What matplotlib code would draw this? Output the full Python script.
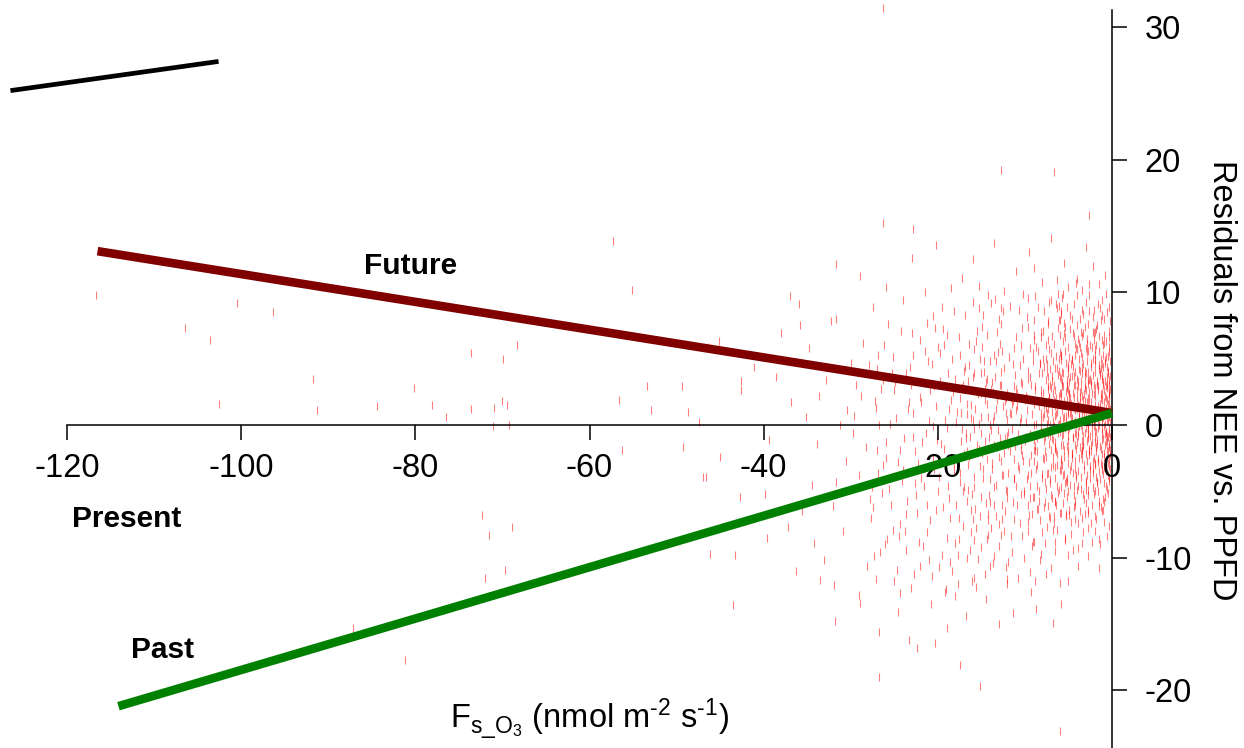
import numpy as np
import matplotlib
matplotlib.use("Agg")
import matplotlib.pyplot as plt

plt.rcParams['font.family'] = ['Liberation Sans', 'DejaVu Sans']
plt.rcParams['mathtext.fontset'] = 'custom'
plt.rcParams['mathtext.rm'] = 'Liberation Sans'
plt.rcParams['mathtext.it'] = 'Liberation Sans'
plt.rcParams['axes.unicode_minus'] = False

# residuals: dense cloud near zero flux
core_pts = [
    (-0.4,2.1),(-1.2,-3.4),(-2.7,5.6),(-0.9,0.8),(-3.5,-1.2),(-5.1,3.9),(-1.8,7.2),(-4.4,-5.3),(-6.2,1.5),(-2.3,-0.6),
    (-7.8,4.4),(-0.6,-1.9),(-3.1,2.8),(-8.9,-2.7),(-4.8,8.3),(-1.5,-6.1),(-6.7,6.1),(-2.9,0.2),(-9.6,1.9),(-5.6,-3.8),
    (-0.8,4.7),(-3.9,-7.4),(-7.1,-0.8),(-1.1,9.4),(-4.2,1.1),(-10.4,3.2),(-2.1,-2.5),(-6.0,-6.6),(-3.3,6.9),(-8.2,0.4),
    (-0.3,-4.2),(-5.3,0.7),(-2.5,3.5),(-11.1,-1.6),(-4.6,-2.1),(-7.4,2.7),(-1.4,1.6),(-9.1,5.4),(-3.7,4.1),(-6.5,-1.7),
    (-0.7,6.3),(-2.8,-4.9),(-5.8,5.2),(-8.6,-4.6),(-1.9,0.3),(-4.0,7.5),(-10.8,-3.1),(-3.0,-0.2),(-6.9,3.3),(-1.6,-2.8),
    (-5.0,-0.4),(-7.7,-5.8),(-2.2,8.1),(-0.5,-0.9),(-9.9,2.2),(-4.3,3.0),(-11.7,0.9),(-3.6,-3.9),(-6.3,8.8),(-1.0,3.2),
    (-8.0,1.8),(-2.6,1.9),(-5.5,-5.1),(-0.9,-7.3),(-7.2,5.7),(-3.4,10.2),(-9.4,-0.7),(-4.9,2.3),(-1.3,5.0),(-6.1,0.1),
    (-10.1,-5.2),(-2.0,-1.3),(-4.7,-8.2),(-8.4,3.9),(-0.2,1.2),(-3.8,0.6),(-5.9,-2.6),(-7.5,0.9),(-1.7,-4.4),(-11.4,4.6),
    (-2.4,4.4),(-6.6,-4.0),(-4.1,5.8),(-9.0,-1.9),(-0.6,3.6),(-3.2,-5.6),(-7.9,7.1),(-5.2,1.9),(-1.1,-0.3),(-8.8,2.6),
    (-2.9,6.5),(-6.4,2.0),(-10.6,0.2),(-4.5,-0.9),(-1.6,2.6),(-7.0,-3.2),(-3.0,3.9),(-5.7,9.6),(-0.4,-2.6),(-9.3,-3.6),
    (-2.2,0.9),(-4.8,-4.5),(-8.1,-0.2),(-1.3,7.9),(-6.8,4.8),(-3.6,-2.2),(-11.0,2.7),(-0.8,-5.4),(-5.4,6.6),(-7.6,-2.4),
    (-2.7,-7.8),(-4.0,2.0),(-9.7,4.1),(-1.9,4.0),(-6.2,-0.6),(-3.4,1.3),(-8.5,-6.3),(-0.5,0.4),(-5.0,4.3),(-10.3,-2.3),
    (-2.5,-3.1),(-7.3,1.2),(-4.4,9.1),(-1.2,-1.1),(-6.0,3.6),(-3.1,-6.7),(-9.2,0.8),(-0.7,2.9),(-5.6,-1.5),(-8.7,5.9),
    (-2.0,5.3),(-4.6,0.5),(-7.8,-1.2),(-1.5,-8.6),(-11.9,-0.5),(-3.8,6.2),(-6.5,1.4),(-0.3,5.5),(-5.3,-6.9),(-9.8,-4.1),
    (-2.3,2.4),(-4.2,-3.3),(-8.3,4.7),(-1.0,-3.7),(-6.9,-5.5),(-3.5,8.7),(-10.9,1.4),(-0.9,1.7),(-5.1,-2.9),(-7.4,6.4),
    (-2.8,0.0),(-4.9,5.1),(-9.5,-2.8),(-1.4,3.8),(-6.3,-3.0),(-3.3,-1.6),(-8.0,-3.7),(-0.6,8.5),(-5.8,2.4),(-11.3,-4.0),
    (-2.1,-5.2),(-4.3,-6.0),(-7.1,3.0),(-1.7,1.0),(-6.7,-7.4),(-3.7,2.5),(-9.0,6.8),(-0.4,-1.4),(-5.5,7.7),(-8.9,0.0),
    (-2.6,9.8),(-4.7,1.6),(-10.2,5.0),(-1.2,-6.5),(-6.0,5.5),(-3.0,-4.2),(-7.7,-4.3),(-0.8,0.1),(-5.2,3.4),(-9.6,-6.0),
    (-1.8,6.0),(-4.1,-1.8),(-8.2,2.2),(-2.4,-2.0),(-6.6,0.7),(-3.9,3.3),(-11.6,2.0),(-0.5,4.1),(-5.9,-4.7),(-7.2,-6.9),
    (-2.0,1.5),(-4.5,6.9),(-9.3,3.0),(-1.1,-2.2),(-6.4,-2.0),(-3.2,0.4),(-8.6,-1.0),(-0.2,-3.3),(-5.0,1.0),(-10.0,-0.9),
    (-2.7,3.1),(-4.8,-3.4),(-7.5,4.0),(-1.6,-5.0),(-6.1,9.0),(-3.6,5.4),(-9.8,1.1),(-0.7,-0.6),(-5.4,-0.2),(-8.4,-5.0),
    (-2.2,7.0),(-4.0,-4.9),(-7.0,1.7),(-1.3,2.3),(-6.8,-1.1),(-3.3,4.6),(-11.2,-2.6),(-0.9,6.8),(-5.7,4.0),(-8.8,-2.0),
    (-2.5,-0.8),(-4.4,3.7),(-9.1,-5.4),(-1.9,-3.0),(-6.2,7.3),(-3.4,-8.9),(-7.9,2.4),(-0.3,0.9),(-5.1,5.9),(-10.5,-1.4),
    (-2.9,-2.7),(-4.6,8.0),(-8.1,0.9),(-1.5,4.5),(-6.5,-5.8),(-3.9,-0.5),(-7.3,-0.5),(-0.6,-4.8),(-5.6,2.9),(-9.4,3.6),
    (-2.1,3.0),(-4.2,-7.1),(-7.6,5.0),(-1.0,0.6),(-6.0,-3.4),(-3.1,1.8),(-8.7,-3.3),(-0.4,3.0),(-5.3,-4.2),(-11.5,1.6),
]

near_pts = [
    (-0.3,3.4),(-1.7,-1.1),(-4.6,4.9),(-2.2,-3.6),(-6.8,0.3),(-0.9,6.2),(-3.5,2.2),(-5.4,-4.4),(-1.2,0.5),(-7.3,2.9),
    (-2.8,7.6),(-4.1,-0.7),(-0.5,-2.9),(-6.1,5.0),(-3.0,-5.9),(-1.5,4.2),(-5.0,2.6),(-7.7,-2.0),(-2.5,1.2),(-0.7,-4.6),
    (-4.4,6.7),(-6.5,-3.2),(-1.9,2.8),(-3.8,-2.5),(-0.2,0.2),(-5.7,1.1),(-2.9,4.8),(-7.0,-5.3),(-1.3,-6.2),(-4.8,0.9),
    (-3.3,8.4),(-6.2,3.8),(-0.6,1.9),(-2.0,-0.9),(-5.2,-1.6),(-7.5,4.6),(-1.0,5.3),(-3.6,-4.8),(-4.9,3.2),(-2.6,-1.8),
    (-0.4,7.1),(-6.7,1.9),(-1.8,-3.9),(-3.9,1.5),(-5.6,6.3),(-2.3,0.0),(-7.9,0.6),(-0.8,-1.5),(-4.3,-5.7),(-3.1,3.6),
    (-1.4,8.8),(-6.0,-0.5),(-2.7,-6.4),(-5.1,4.5),(-0.3,-0.3),(-3.4,0.7),(-7.2,-1.4),(-1.6,1.4),(-4.5,2.4),(-2.1,6.4),
    (-5.8,-2.8),(-0.9,-3.2),(-3.7,5.9),(-6.4,-6.0),(-1.1,2.4),(-4.0,-1.3),(-2.4,3.0),(-7.6,3.4),(-0.6,4.4),(-5.3,0.2),
    (-3.2,-3.0),(-1.7,7.5),(-6.9,-1.0),(-2.9,1.7),(-4.7,-3.1),(-0.2,2.7),(-5.9,3.5),(-1.3,-1.8),(-3.5,6.7),(-7.1,0.0),
    (-2.2,-4.7),(-4.2,4.0),(-0.8,0.9),(-6.3,-4.6),(-1.9,5.7),(-3.8,-0.1),(-5.5,1.8),(-2.6,-2.3),(-0.5,3.9),(-7.4,-3.6),
    (-4.4,1.3),(-1.0,-5.6),(-3.0,2.6),(-6.6,4.3),(-2.0,-0.4),(-5.0,-5.0),(-0.4,5.9),(-3.6,3.3),(-1.6,-2.6),(-4.8,7.2),
    (-6.1,2.2),(-2.8,-5.3),(-0.7,1.3),(-5.4,5.6),(-3.3,-1.4),(-1.2,3.7),(-7.8,1.5),(-4.1,-4.0),(-2.4,4.7),(-0.3,-1.7),
    (-5.7,-0.8),(-3.9,2.9),(-1.5,0.0),(-6.8,-2.4),(-2.7,2.0),(-4.6,-2.2),(-0.9,8.0),(-3.1,-0.6),(-5.2,3.0),(-7.0,5.4),
    (-1.8,1.0),(-4.3,5.3),(-2.5,-3.4),(-0.6,-0.8),(-6.4,0.8),(-3.7,-6.5),(-1.1,4.6),(-5.0,1.4),(-2.1,2.3),(-7.3,-0.7),
    (-0.2,4.8),(-4.5,-1.0),(-3.4,4.4),(-1.4,-4.1),(-6.0,6.8),(-2.3,-1.3),(-5.5,-3.7),(-0.8,2.2),(-3.8,0.9),(-4.9,-6.4),
    (-1.7,3.1),(-6.7,-0.1),(-2.9,5.5),(-0.5,-3.8),(-5.3,2.5),(-3.2,1.0),(-7.6,-4.8),(-1.2,-0.6),(-4.0,3.5),(-2.6,8.6),
    (-0.4,0.6),(-5.8,4.9),(-3.5,-2.0),(-1.9,-5.0),(-6.5,2.6),(-2.2,3.8),(-4.7,0.4),(-0.9,-2.1),(-3.0,-4.4),(-7.2,2.1),
    (-1.5,6.7),(-5.1,-1.9),(-2.8,0.5),(-0.3,1.5),(-4.2,-2.7),(-6.2,-5.1),(-1.0,3.0),(-3.6,7.0),(-5.6,0.5),(-2.0,-2.9),
    (-0.7,5.1),(-4.4,-4.6),(-3.3,1.9),(-7.5,0.1),(-1.3,2.0),(-5.9,-3.4),(-2.5,6.0),(-0.6,-1.2),(-3.9,-3.5),(-6.9,3.7),
    (-1.6,-0.2),(-4.8,2.0),(-2.3,-6.0),(-0.2,-2.3),(-5.4,7.4),(-3.1,4.1),(-7.8,-2.6),(-1.1,1.1),(-4.1,0.0),(-2.7,-0.7),
    (-6.3,1.0),(-0.8,3.3),(-3.7,2.1),(-5.2,-4.3),(-1.9,7.0),(-4.6,3.7),(-2.0,0.8),(-0.5,-5.1),(-6.6,-1.8),(-3.4,-1.9),
    (-1.4,4.0),(-5.7,2.9),(-2.9,-3.8),(-0.4,2.5),(-4.3,6.1),(-7.1,-4.1),(-1.7,-1.4),(-3.2,0.2),(-6.1,4.1),(-2.4,1.7),
    (-0.9,-0.1),(-5.0,-0.8),(-3.8,5.0),(-1.2,-3.0),(-4.9,1.7),(-2.6,3.4),(-7.4,1.8),(-0.3,6.6),(-5.5,-2.4),(-3.0,-2.2),
    (-1.6,0.4),(-6.0,0.4),(-2.2,5.0),(-4.5,-3.6),(-0.7,-0.5),(-3.5,3.9),(-5.3,-6.7),(-1.0,6.0),(-6.8,2.4),(-2.8,-1.0),
    (-4.0,1.2),(-0.2,-0.9),(-1.8,-2.0),(-5.6,3.9),(-3.3,-5.2),(-7.0,2.8),(-2.1,0.3),(-4.7,4.6),(-0.6,2.8),(-3.9,-0.8),
    (-0.5,1.6),(-1.3,4.3),(-2.4,-1.5),(-3.7,1.7),(-0.9,-2.4),(-4.8,3.6),(-1.9,2.2),(-2.9,6.1),(-5.5,0.6),(-0.3,-0.6),
    (-3.2,-3.4),(-1.1,3.5),(-4.2,0.3),(-2.0,4.6),(-5.9,2.1),(-0.7,-3.5),(-3.5,5.1),(-1.6,0.7),(-4.6,-2.5),(-2.6,2.5),
    (-0.2,3.7),(-5.1,-1.2),(-3.0,0.6),(-1.4,-1.6),(-4.0,5.7),(-2.2,-2.7),(-0.8,4.9),(-5.7,-3.0),(-3.6,2.7),(-1.8,-0.5),
    (-4.4,2.1),(-2.7,-0.3),(-0.4,-4.0),(-5.3,4.7),(-3.3,-0.8),(-1.2,1.9),(-4.9,-0.2),(-2.1,6.9),(-0.6,0.3),(-3.9,-4.6),
    (-1.5,5.6),(-5.0,0.8),(-2.5,-4.0),(-0.3,2.3),(-4.3,-1.5),(-3.1,3.0),(-1.0,-1.0),(-5.8,5.3),(-2.8,1.4),(-0.9,-4.4),
    (-4.7,1.0),(-1.7,3.3),(-3.4,-2.6),(-5.2,2.8),(-2.3,0.2),(-0.5,5.2),(-3.8,4.2),(-1.3,-2.9),(-4.1,-3.8),(-2.0,1.1),
    (-0.7,2.0),(-5.6,-0.7),(-3.0,5.8),(-1.5,-3.5),(-4.5,4.4),(-2.6,-2.0),(-0.2,-1.9),(-3.6,0.0),(-1.9,4.9),(-5.4,1.5),
    (-2.4,3.2),(-0.8,-0.7),(-4.2,-0.6),(-3.2,2.3),(-1.1,6.4),(-5.0,-2.2),(-2.9,-1.2),(-0.4,1.0),(-3.7,-1.7),(-1.6,2.9),
    (-4.8,0.1),(-2.2,-3.3),(-0.6,3.1),(-5.9,-1.5),(-3.3,1.2),(-1.2,0.2),(-4.4,3.0),(-2.7,4.0),(-0.3,-3.1),(-3.9,6.5),
    (-1.8,-1.7),(-5.2,-4.0),(-2.5,0.9),(-0.9,2.6),(-4.6,5.0),(-3.5,-0.4),(-1.4,1.3),(-5.7,3.2),(-2.1,-0.1),(-0.5,-2.0),
    (-3.0,-4.9),(-1.0,4.4),(-4.0,2.6),(-2.3,5.9),(-0.7,-1.3),(-5.5,-1.9),(-3.8,1.4),(-1.7,-4.2),(-4.9,2.4),(-2.8,3.4),
    (-0.4,-7.6),(-1.6,9.1),(-3.3,-8.1),(-5.0,10.4),(-6.8,-7.9),(-8.5,8.9),(-2.0,-6.9),(-4.0,9.8),(-0.9,-5.8),(-7.4,7.6),
    (-2.6,10.6),(-9.2,-6.7),(-1.2,8.3),(-4.7,-7.3),(-6.3,10.9),(-0.6,-8.4),(-3.7,8.0),(-8.0,-8.1),(-2.3,-8.8),(-5.8,8.6),
    (-1.8,-7.1),(-9.6,7.4),(-3.0,9.3),(-4.4,-6.2),(-7.1,-7.0),(-0.2,7.8),(-5.4,-8.5),(-2.8,-6.6),(-8.8,9.7),(-1.4,-9.0),
    (-6.0,7.9),(-3.9,-9.3),(-0.7,9.9),(-7.8,-6.2),(-4.9,-6.8),(-2.1,8.7),(-9.0,-8.8),(-1.0,-6.4),(-5.2,8.9),(-3.5,-7.0),
    (-6.6,-8.8),(-0.3,8.9),(-8.2,6.6),(-2.4,-7.4),(-4.1,10.7),(-1.5,-5.7),(-7.0,9.4),(-5.6,-5.9),(-3.1,7.4),(-9.4,-5.5),
]

mid_pts = [
    (-6.3,-2.2),(-8.4,1.4),(-11.2,-4.1),(-7.1,4.2),(-13.6,0.7),(-9.5,-6.8),(-15.4,2.3),(-6.9,-0.4),(-10.3,3.1),(-12.7,-2.7),
    (-8.0,-4.0),(-16.8,-1.0),(-7.6,6.0),(-14.1,-5.3),(-9.9,0.2),(-11.8,5.1),(-6.5,1.7),(-13.0,-7.5),(-8.8,-1.6),(-17.3,0.9),
    (-10.7,-3.3),(-7.3,-6.1),(-12.2,2.0),(-15.9,-3.9),(-9.1,4.8),(-6.1,-4.9),(-14.7,4.0),(-11.5,-0.3),(-8.2,2.6),(-16.2,-6.4),
    (-10.0,-1.2),(-7.8,0.8),(-13.4,3.6),(-9.6,-8.0),(-12.0,-5.5),(-6.7,3.0),(-15.0,-0.6),(-11.0,1.1),(-8.6,-3.0),(-17.8,-2.9),
    (-7.0,-1.9),(-14.4,1.6),(-10.5,6.0),(-12.9,-1.0),(-9.3,-2.3),(-16.5,3.3),(-6.4,5.2),(-11.3,-7.1),(-8.1,-0.5),(-13.8,-3.3),
    (-10.9,2.4),(-7.5,-3.7),(-15.6,-7.8),(-9.0,1.6),(-12.4,4.3),(-6.2,0.0),(-14.9,-2.1),(-11.7,-2.0),(-8.5,5.6),(-17.0,-4.7),
    (-10.1,-5.0),(-7.2,2.1),(-13.2,1.9),(-9.7,3.5),(-16.0,0.4),(-12.6,-3.8),(-6.8,-3.0),(-14.3,-8.6),(-11.1,3.8),(-8.3,-7.2),
    (-15.2,5.0),(-10.4,0.5),(-7.9,-2.5),(-13.5,-1.5),(-9.2,-0.8),(-17.5,2.0),(-12.1,0.4),(-6.6,-5.7),(-14.6,2.7),(-11.4,-5.8),
    (-8.7,0.1),(-16.4,-2.4),(-10.2,-2.7),(-7.4,3.6),(-13.1,5.5),(-9.4,-4.6),(-15.7,1.2),(-12.3,-6.5),(-6.0,2.4),(-14.0,0.0),
    (-11.6,0.8),(-8.9,-5.4),(-17.2,-0.3),(-10.6,4.5),(-7.7,-0.9),(-13.3,-4.5),(-9.8,2.0),(-16.1,-5.2),(-12.5,1.4),(-6.3,4.3),
    (-14.8,-4.0),(-11.9,-1.5),(-8.0,3.9),(-15.3,-1.8),(-10.8,-0.7),(-7.1,-4.4),(-13.7,2.5),(-9.4,5.8),(-16.7,1.6),(-12.8,3.0),
    (-6.9,1.0),(-14.2,-6.7),(-11.2,2.9),(-8.6,-2.0),(-17.6,-7.0),(-10.3,-8.4),(-7.6,1.3),(-13.9,-0.4),(-9.0,-1.1),(-15.8,3.9),
    (-12.0,-0.8),(-6.5,-1.3),(-14.5,3.2),(-11.0,-4.6),(-8.3,4.6),(-16.3,-0.9),(-10.0,1.9),(-7.3,0.4),(-13.0,-2.4),(-9.6,-3.8),
    (-15.1,0.6),(-12.2,-4.9),(-6.7,-6.9),(-14.0,4.8),(-11.4,1.8),(-8.8,2.9),(-17.1,3.0),(-10.5,-1.9),(-7.9,5.0),(-13.6,-6.0),
]

wide_pts = [
    (-5.4,-8.7),(-9.8,8.1),(-14.6,-11.2),(-19.3,6.0),(-24.1,-4.2),(-7.2,9.3),(-11.5,-9.6),(-16.9,4.4),(-21.7,-9.1),(-26.5,2.7),
    (-6.1,7.9),(-10.6,-7.4),(-15.3,8.8),(-20.4,-3.3),(-25.2,5.1),(-8.3,-10.2),(-13.2,7.0),(-18.6,-7.0),(-22.8,0.9),(-27.4,-6.2),
    (-5.9,-6.6),(-12.4,10.1),(-17.7,-12.0),(-23.6,3.9),(-9.1,-8.8),(-14.9,5.9),(-19.9,-10.7),(-26.0,-1.3),(-7.8,8.6),(-11.9,-3.6),
    (-16.2,-8.1),(-21.3,7.7),(-25.8,-8.6),(-6.6,-9.5),(-10.3,7.3),(-15.8,-4.7),(-20.9,2.6),(-24.7,-10.9),(-8.9,6.4),(-13.7,-10.4),
    (-18.2,8.6),(-22.4,-6.6),(-27.9,4.5),(-5.6,9.9),(-12.8,-8.3),(-17.0,-2.2),(-23.0,6.9),(-9.4,-11.1),(-14.3,6.8),(-19.6,-1.4),
    (-26.9,-3.6),(-7.5,-7.7),(-11.7,9.0),(-16.6,-10.0),(-21.1,4.8),(-25.5,0.1),(-6.9,6.7),(-10.9,-6.0),(-15.2,-6.9),(-20.0,5.9),
    (-24.4,-7.5),(-8.6,-6.3),(-13.0,8.0),(-18.8,-4.6),(-22.6,-2.0),(-27.1,1.3),(-5.2,-5.4),(-12.1,-11.6),(-17.4,5.3),(-23.8,-8.0),
    (-9.6,9.6),(-14.0,-5.8),(-19.0,-8.5),(-26.2,6.0),(-7.0,-10.8),(-11.3,5.8),(-16.0,9.3),(-21.9,-4.0),(-25.0,-11.8),(-6.3,-7.9),
    (-10.1,-10.0),(-15.5,7.1),(-20.7,-11.4),(-24.9,3.2),(-8.1,7.0),(-13.5,-9.9),(-18.0,3.5),(-22.2,-8.8),(-27.6,-4.7),(-5.8,8.4),
    (-12.6,-7.1),(-17.9,-6.0),(-23.3,1.7),(-9.2,-9.1),(-14.8,8.3),(-19.2,-12.6),(-26.6,-9.6),(-7.3,7.8),(-11.6,-8.4),(-16.4,6.1),
    (-21.4,-0.6),(-25.4,-6.0),(-6.0,-11.9),(-10.7,8.7),(-15.9,-11.5),(-20.2,-6.4),(-24.2,7.1),(-8.4,-5.7),(-13.3,4.8),(-18.4,-11.0),
    (-22.9,5.3),(-27.3,-9.9),(-5.5,6.9),(-12.2,-10.7),(-17.1,-5.0),(-23.1,-12.3),(-9.0,7.9),(-14.2,-7.2),(-19.4,7.2),(-26.3,3.4),
    (-7.7,-8.9),(-11.0,6.6),(-16.5,-3.0),(-21.0,-10.2),(-25.7,7.6),(-6.4,9.1),(-10.4,-5.2),(-15.0,-9.2),(-20.6,8.2),(-24.6,-2.8),
    (-8.8,-11.8),(-13.9,9.2),(-18.7,1.2),(-22.5,-5.3),(-27.0,-1.9),(-5.1,-9.8),(-12.7,7.6),(-17.6,-8.6),(-23.7,-9.4),(-9.7,-7.3),
]

inner_pts = [
    (-12.4,-2.1),(-13.8,3.2),(-15.1,-5.4),(-12.9,6.1),(-16.7,0.8),(-14.2,-8.3),(-18.3,2.5),(-13.1,-0.4),(-17.5,-3.6),(-20.2,1.4),
    (-12.7,4.0),(-15.9,5.7),(-19.4,-6.2),(-14.6,1.9),(-21.8,-1.3),(-13.5,-4.7),(-16.3,-9.4),(-23.1,3.0),(-12.2,0.9),(-18.9,-0.2),
    (-14.9,7.4),(-17.1,-7.6),(-20.7,4.6),(-13.3,-6.9),(-15.5,-1.5),(-22.6,-4.4),(-16.0,3.6),(-24.8,0.5),(-19.0,6.8),(-12.5,-3.8),
    (-14.0,-10.6),(-18.1,-2.9),(-21.2,-8.1),(-13.9,2.7),(-16.9,8.3),(-25.9,-2.5),(-15.3,0.1),(-20.0,-5.0),(-17.8,1.0),(-23.7,-6.7),
    (-12.8,8.8),(-14.4,-2.6),(-19.7,3.3),(-16.5,-4.9),(-22.1,2.1),(-13.0,-9.1),(-18.6,-10.3),(-27.2,1.8),(-15.7,-6.3),(-21.5,5.6),
    (-14.7,4.8),(-17.3,-1.2),(-12.3,1.8),(-26.4,-5.1),(-20.5,-2.4),(-16.1,-11.8),(-24.0,-3.4),(-13.6,5.3),(-19.2,0.4),(-15.0,2.4),
    (-18.4,5.0),(-22.9,-0.9),(-12.6,-6.0),(-14.1,-0.9),(-28.3,-1.7),(-17.0,4.1),(-20.9,-7.2),(-16.6,-2.0),(-25.3,3.9),(-13.2,-1.7),
    (-15.8,-8.7),(-19.9,-3.9),(-23.4,1.2),(-14.3,3.5),(-18.0,-8.9),(-21.0,0.3),(-12.1,-5.0),(-29.1,-3.8),(-16.2,1.5),(-17.6,6.6),
    (-13.7,0.3),(-20.4,2.9),(-24.5,-8.4),(-15.2,-3.1),(-22.3,-2.9),(-18.7,-5.5),(-14.5,-5.9),(-26.8,0.0),(-12.9,3.0),(-19.5,-9.8),
    (-16.8,-0.6),(-21.6,-4.6),(-13.4,9.5),(-17.9,0.2),(-15.6,6.3),(-23.9,-1.0),(-20.1,-1.1),(-14.8,-3.3),(-27.7,-7.0),(-18.5,1.9),
    (-12.0,2.4),(-16.4,4.5),(-22.0,6.4),(-13.9,-7.8),(-19.3,-1.8),(-25.0,2.6),(-15.4,-10.1),(-17.2,2.8),(-21.3,-6.0),(-14.2,0.6),
    (-28.8,2.2),(-18.2,-3.4),(-12.4,-8.0),(-20.6,-0.1),(-16.0,-7.1),(-23.2,4.4),(-13.3,1.2),(-19.8,5.4),(-26.1,-9.0),(-15.1,3.9),
    (-17.4,-4.3),(-22.7,-11.2),(-14.0,-4.1),(-24.3,-1.9),(-18.8,3.9),(-12.6,5.6),(-21.9,1.7),(-16.7,-5.7),(-29.6,0.7),(-13.8,-2.9),
    (-19.1,-12.4),(-15.9,-0.3),(-25.6,-4.8),(-17.7,-9.8),(-20.3,7.3),(-14.6,-1.2),(-23.5,-5.7),(-12.3,-1.0),(-27.0,4.2),(-16.2,0.5),
    (-18.5,10.3),(-16.0,12.5),(-14.2,9.8),(-11.0,11.6),(-9.5,13.0),(-8.0,10.8),(-5.5,12.2),(-4.0,11.0),(-3.0,13.4),(-1.5,10.6),
    (-7.0,14.1),(-12.5,8.6),(-10.2,9.9),(-17.2,11.1),(-13.5,13.7),(-2.2,12.0),(-6.2,9.9),(-15.3,10.5),(-19.5,8.9),(-21.5,10.0),
    (-24.0,9.4),(-23.0,12.6),(-0.8,11.3),(-9.0,11.8),
    (-18.0,-12.9),(-14.5,-13.1),(-10.8,-11.5),(-9.3,-12.6),(-13.0,-15.0),(-16.8,-14.4),(-20.8,-13.5),(-7.6,-11.2),(-12.0,-12.0),(-22.0,-10.6),
    (-5.0,-11.8),(-4.5,-9.4),(-2.8,-9.9),(-11.9,-10.3),(-15.6,-12.2),(-19.0,-15.3),(-24.6,-14.1),(-8.2,-9.7),(-1.5,-10.8),(-23.3,-16.2),
]

outer_pts = [
    (-25.2,-7.9),(-26.9,5.3),(-28.1,-10.6),(-30.4,1.1),(-27.5,8.9),(-31.7,-4.3),(-29.0,-12.8),(-32.8,3.4),(-26.3,-3.0),(-33.9,-1.4),
    (-28.6,6.2),(-30.9,-8.0),(-34.8,5.8),(-27.8,-5.6),(-35.6,-6.5),(-31.2,0.0),(-29.7,-0.6),(-36.9,1.7),(-33.1,-10.2),(-30.0,4.7),
    (-37.7,-3.0),(-32.3,7.8),(-26.0,10.4),(-34.2,-8.9),(-38.6,3.6),(-31.9,-12.1),(-35.1,0.6),(-28.9,-13.4),(-39.4,-1.1),(-33.6,2.2),
    (-36.3,-11.0),(-29.4,3.0),(-38.0,6.9),(-30.6,-2.7),(-34.5,-4.5),(-37.2,-7.7),(-32.0,-6.1),(-39.8,-5.2),(-35.9,9.1),(-27.1,-11.6),
]

far_pts = [
    (-116.7,9.8),(-100.5,9.2),(-106.5,7.3),(-91.7,3.5),(-80.2,2.8),(-102.6,1.6),(-91.3,1.1),(-84.4,1.4),(-78.1,1.5),(-76.5,0.6),
    (-73.6,5.4),(-69.9,5.0),(-68.3,6.0),(-73.6,1.2),(-71.0,1.3),(-70.0,1.8),(-69.5,1.5),(-72.4,-6.8),(-71.6,-8.3),(-68.9,-7.7),
    (-72.0,-11.5),(-69.7,-10.9),(-87.2,-15.3),(-71.1,-0.1),(-69.2,0.0),(-81.2,-17.7),(-96.4,8.5),(-103.6,6.4),
    (-57.3,13.9),(-55.1,10.2),(-53.4,2.9),(-49.4,2.9),(-56.6,1.9),(-52.9,1.1),(-48.7,1.0),(-47.4,0.2),(-45.1,6.3),(-46.4,5.9),
    (-41.1,4.4),(-42.6,3.3),(-42.6,2.6),(-56.3,-1.9),(-49.3,-1.7),(-46.6,-3.9),(-45.0,-2.4),(-42.7,-5.4),(-47.0,-3.9),(-37.0,9.7),
    (-35.8,7.5),(-31.7,12.1),(-31.7,8.0),(-28.9,11.2),(-26.3,15.2),(-22.8,14.8),(-20.2,13.6),(-12.7,19.2),(-6.7,19.1),(-2.6,15.8),
    (-26.3,31.4),(-43.5,-13.6),(-33.5,-11.7),(-39.6,-8.5),(-43.3,-9.8),(-46.2,-9.7),(-24.3,-12.7),(-31.8,-14.8),(-26.8,-15.6),(-22.4,-16.8),
    (-20.3,-16.4),(-17.4,-18.1),(-26.7,-19.0),(-15.2,-19.7),(-6.0,-23.1),(-8.7,-13.9),(-6.8,-14.9),(-5.9,-13.5),(-2.0,-8.0),(-3.9,-10.6),
    (-11.4,-14.2),
]

# fitted lines for the three scenarios
future_x = [-116.5, 0.0]
future_y = [13.1, 0.9]
past_x = [-114.1, 0.0]
past_y = [-21.2, 0.9]
present_x = [-126.5, -102.6]
present_y = [25.2, 27.4]

xticks = [-120, -100, -80, -60, -40, -20, 0]
yticks = [-20, -10, 0, 10, 20, 30]

pts = np.array(core_pts + near_pts + mid_pts + wide_pts + inner_pts + outer_pts + far_pts)

fig = plt.figure(figsize=(12.44, 7.48), dpi=100)
ax = fig.add_axes([0, 0, 1, 1])
ax.set_xlim(-127.7, 15.16)
ax.set_ylim(-24.35, 32.03)

ax.plot(pts[:, 0], pts[:, 1], ls='none', marker='|', markersize=6,
        markeredgewidth=0.8, color='#ff0000', alpha=0.5, zorder=1)

ax.plot(future_x, future_y, color='#800000', lw=6.2, solid_capstyle='butt', zorder=4)
ax.plot(past_x, past_y, color='#008000', lw=6.2, solid_capstyle='butt', zorder=4)
ax.plot(present_x, present_y, color='black', lw=3.4, solid_capstyle='butt', zorder=4)

ax.text(-80.5, 12.0, 'Future', fontsize=21.5, fontweight='bold', ha='center', va='center')
ax.text(-113.2, -7.1, 'Present', fontsize=21.5, fontweight='bold', ha='center', va='center')
ax.text(-109.0, -17.0, 'Past', fontsize=21.5, fontweight='bold', ha='center', va='center')

# axes crossing at the origin
ax.spines['left'].set_visible(False)
ax.spines['top'].set_visible(False)
ax.spines['bottom'].set_position(('data', 0))
ax.spines['right'].set_position(('data', 0))
ax.spines['bottom'].set_bounds(-120, 0)
ax.spines['right'].set_bounds(-24.35, 31.28)
for s in ('bottom', 'right'):
    ax.spines[s].set_linewidth(1.1)

ax.yaxis.tick_right()
ax.set_xticks(xticks)
ax.set_yticks(yticks)
ax.tick_params(axis='both', direction='out', length=10.5, width=1.1, labelsize=23.5)
ax.tick_params(axis='x', pad=10)
ax.tick_params(axis='y', pad=13)

ax.set_xlabel(r'F$_{\mathregular{s\_O_3}}$ (nmol m$^{\text{-2}}$ s$^{\text{-1}}$)',
              fontsize=23.5, va='center', ha='center')
ax.xaxis.set_label_coords(0.474, 0.038)
ax.yaxis.set_label_position('right')
ax.set_ylabel('Residuals from NEE vs. PPFD', fontsize=23.5, rotation=-90, va='center', ha='center')
ax.yaxis.set_label_coords(0.982, 0.492)

fig.savefig('out.png', dpi=100)
